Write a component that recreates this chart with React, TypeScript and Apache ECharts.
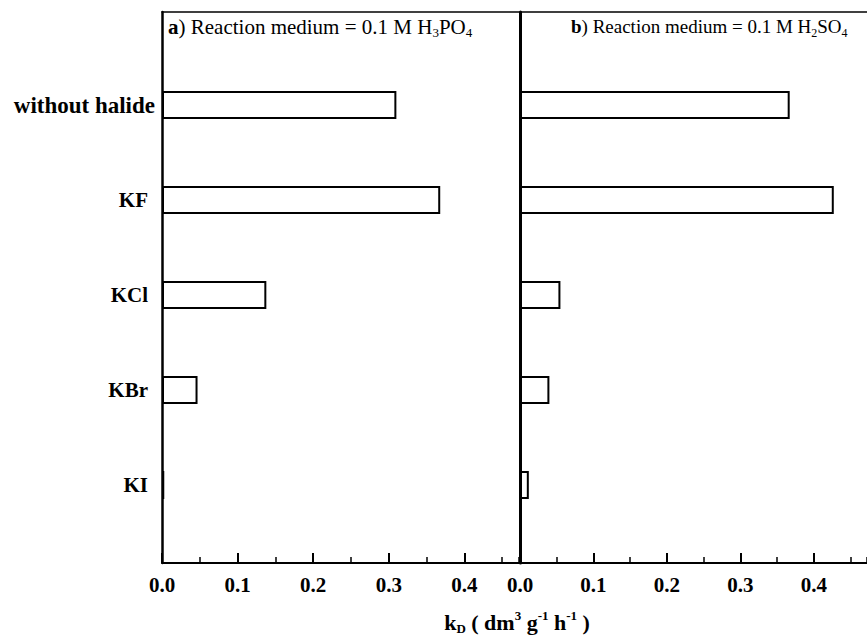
import React, { useEffect, useRef } from "react";
import * as echarts from "echarts";

const categories = ["without halide", "KF", "KCl", "KBr", "KI"];
const h3po4Values = [0.31, 0.368, 0.138, 0.047, 0.003];
const h2so4Values = [0.367, 0.427, 0.055, 0.04, 0.012];
const xMin = 0;
const xMax = 0.4722;
const majorStep = 0.1;
const minorStep = 0.05;

const FONT = '"Liberation Serif", "Times New Roman", serif';

const LEFT1 = 162;
const LEFT2 = 520;
const PANEL_W = 357;
const TOP = 12;
const FRAME_H = 551;
const BAR_TOP = 57.5;
const BAR_H = 475;

function frameAxes(gridIndex: number) {
  return [
    {
      gridIndex,
      type: "value",
      position: "bottom",
      min: xMin,
      max: xMax,
      interval: majorStep,
      axisLine: { show: true, lineStyle: { color: "#000", width: 2 } },
      axisTick: { show: true, inside: true, length: 10, lineStyle: { color: "#000", width: 2 } },
      axisLabel: {
        show: true,
        showMaxLabel: false,
        margin: 11,
        color: "#000",
        fontFamily: FONT,
        fontWeight: "bold",
        fontSize: 21,
        formatter: (v: number) => v.toFixed(1),
      },
      splitLine: { show: false },
    },
    {
      gridIndex,
      type: "value",
      position: "bottom",
      min: xMin,
      max: xMax,
      interval: minorStep,
      axisLine: { show: false },
      axisTick: { show: true, inside: true, length: 6, lineStyle: { color: "#000", width: 1.5 } },
      axisLabel: { show: false },
      splitLine: { show: false },
    },
    {
      gridIndex,
      type: "value",
      position: "top",
      min: xMin,
      max: xMax,
      axisLine: { show: true, lineStyle: { color: "#000", width: 1.5 } },
      axisTick: { show: false },
      axisLabel: { show: false },
      splitLine: { show: false },
    },
  ];
}

function titleRich(size: number) {
  return {
    bb: { fontFamily: FONT, fontWeight: "bold", fontSize: size, lineHeight: 24, fill: "#000", color: "#000" },
    n: { fontFamily: FONT, fontSize: size, lineHeight: 24, fill: "#000", color: "#000" },
    s: { fontFamily: FONT, fontSize: Math.round(size * 0.62), lineHeight: 12, verticalAlign: "bottom", fill: "#000", color: "#000" },
  };
}

export default function App() {
  const ref = useRef<HTMLDivElement>(null);

  useEffect(() => {
    if (!ref.current) return;
    const chart = echarts.init(ref.current, undefined, { renderer: "svg" });

    const textBase = { fontFamily: FONT, color: "#000", fill: "#000" };

    const option: any = {
      animation: false,
      backgroundColor: "#fff",
      grid: [
        { left: LEFT1, top: TOP, width: PANEL_W, height: FRAME_H, containLabel: false },
        { left: LEFT2, top: TOP, width: PANEL_W, height: FRAME_H, containLabel: false },
        { left: LEFT1, top: BAR_TOP, width: PANEL_W, height: BAR_H, containLabel: false },
        { left: LEFT2, top: BAR_TOP, width: PANEL_W, height: BAR_H, containLabel: false },
      ],
      xAxis: [
        ...frameAxes(0),
        ...frameAxes(1),
        { gridIndex: 2, type: "value", min: xMin, max: xMax, show: false },
        { gridIndex: 3, type: "value", min: xMin, max: xMax, show: false },
      ],
      yAxis: [
        {
          gridIndex: 0,
          type: "value",
          min: 0,
          max: 1,
          axisLine: { show: true, lineStyle: { color: "#000", width: 2.5 } },
          axisTick: { show: false },
          axisLabel: { show: false },
          splitLine: { show: false },
        },
        {
          gridIndex: 1,
          type: "value",
          min: 0,
          max: 1,
          axisLine: { show: true, lineStyle: { color: "#000", width: 3 } },
          axisTick: { show: false },
          axisLabel: { show: false },
          splitLine: { show: false },
        },
        {
          gridIndex: 2,
          type: "category",
          inverse: true,
          data: categories,
          axisLine: { show: false },
          axisTick: { show: false },
          splitLine: { show: false },
          axisLabel: {
            show: true,
            margin: 7,
            formatter: (v: string) => (v === "without halide" ? `{a|${v}}` : `{b|${v}}`),
            rich: {
              a: { fontFamily: FONT, fontWeight: "bold", fontSize: 23, color: "#000" },
              b: { fontFamily: FONT, fontWeight: "bold", fontSize: 21, color: "#000", padding: [0, 7, 0, 0] },
            },
          },
        },
        {
          gridIndex: 3,
          type: "category",
          inverse: true,
          data: categories,
          show: false,
        },
      ],
      series: [
        {
          name: "0.1 M H3PO4",
          type: "bar",
          xAxisIndex: 6,
          yAxisIndex: 2,
          data: h3po4Values,
          barWidth: 28,
          itemStyle: { color: "#fff", borderColor: "#000", borderWidth: 2 },
          z: 5,
        },
        {
          name: "0.1 M H2SO4",
          type: "bar",
          xAxisIndex: 7,
          yAxisIndex: 3,
          data: h2so4Values,
          barWidth: 28,
          itemStyle: { color: "#fff", borderColor: "#000", borderWidth: 2 },
          z: 5,
        },
      ],
      graphic: [
        {
          type: "text",
          left: 168,
          top: 16,
          style: {
            text: "{bb|a}{n|) Reaction medium = 0.1 M H}{s|3}{n|PO}{s|4}",
            ...textBase,
            rich: titleRich(21),
          },
        },
        {
          type: "text",
          left: 571,
          top: 17,
          style: {
            text: "{bb|b}{n|) Reaction medium = 0.1 M H}{s|2}{n|SO}{s|4}",
            ...textBase,
            rich: titleRich(19),
          },
        },
        {
          type: "text",
          x: 517,
          y: 622,
          style: {
            text: "{m|k}{sub|D}{m| ( dm}{sup|3}{m| g}{sup|-1}{m| h}{sup|-1}{m| )}",
            ...textBase,
            align: "center",
            textAlign: "center",
            verticalAlign: "middle",
            textVerticalAlign: "middle",
            rich: {
              m: { fontFamily: FONT, fontWeight: "bold", fontSize: 22, lineHeight: 26, fill: "#000", color: "#000" },
              sub: { fontFamily: FONT, fontWeight: "bold", fontSize: 13, lineHeight: 12, verticalAlign: "bottom", fill: "#000", color: "#000" },
              sup: { fontFamily: FONT, fontWeight: "bold", fontSize: 13, lineHeight: 12, verticalAlign: "top", fill: "#000", color: "#000" },
            },
          },
        },
      ],
    };

    chart.setOption(option);
    return () => chart.dispose();
  }, []);

  return (
    <div
      ref={ref}
      style={{ position: "fixed", left: 0, top: 0, width: 867, height: 638, background: "#fff" }}
    />
  );
}
